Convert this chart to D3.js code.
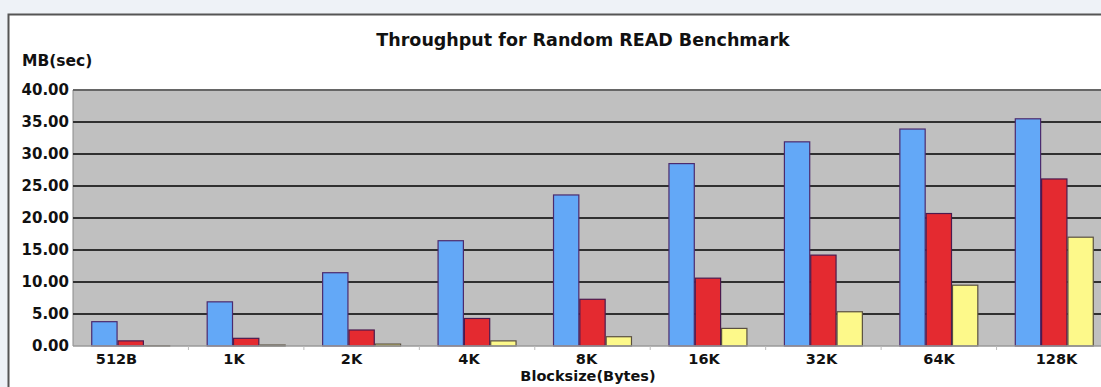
<!DOCTYPE html>
<html>
<head>
<meta charset="utf-8">
<script src="https://cdn.jsdelivr.net/npm/d3@7"></script>
<style>
  html, body { margin: 0; padding: 0; background: #eef2f7; }
  svg { display: block; }
  text { font-family: "DejaVu Sans", "Liberation Sans", Arial, sans-serif; font-weight: bold; fill: #111; }
</style>
</head>
<body>
<svg id="chart" width="1101" height="387"></svg>
<script>
const categories = ["512B", "1K", "2K", "4K", "8K", "16K", "32K", "64K", "128K"];
const seriesNames = ["Series A", "Series B", "Series C"];
const seriesA = [3.8, 6.9, 11.45, 16.45, 23.6, 28.5, 31.9, 33.9, 35.5];
const seriesB = [0.8, 1.2, 2.5, 4.3, 7.3, 10.6, 14.2, 20.7, 26.1];
const seriesC = [0.05, 0.15, 0.3, 0.8, 1.45, 2.75, 5.35, 9.5, 17.0];
const yTicks = [0, 5, 10, 15, 20, 25, 30, 35, 40];
const seriesColors = ["#63a8f7", "#e42a30", "#fdf98a"];
const seriesStroke = ["#4b2a6e", "#4b1a4e", "#5a5040"];

const title = "Throughput for Random READ Benchmark";
const yTitle = "MB(sec)";
const xTitle = "Blocksize(Bytes)";

const W = 1101, H = 387;
const plot = { left: 73, top: 90, right: 1112, bottom: 346 };

const svg = d3.select("#chart");

// frame
svg.append("rect").attr("x", 0).attr("y", 0).attr("width", W).attr("height", H).attr("fill", "#eef2f7");
svg.append("rect").attr("x", 8.5).attr("y", 14.5).attr("width", W + 20).attr("height", H + 20)
  .attr("fill", "#ffffff").attr("stroke", "#555").attr("stroke-width", 2);

const x = d3.scaleBand().domain(categories).range([plot.left, plot.right])
  .paddingInner(0.316).paddingOuter(0.158);
const xs = d3.scaleBand().domain(seriesNames).range([0, x.bandwidth()]);
const y = d3.scaleLinear().domain([0, 40]).range([plot.bottom, plot.top]);

// plot background
svg.append("rect").attr("x", plot.left).attr("y", plot.top)
  .attr("width", plot.right - plot.left).attr("height", plot.bottom - plot.top)
  .attr("fill", "#c0c0c0");
svg.append("line").attr("x1", plot.left).attr("x2", plot.left)
  .attr("y1", plot.top).attr("y2", plot.bottom).attr("stroke", "#8a8a8a").attr("stroke-width", 1);

// gridlines
svg.append("g").selectAll("line").data(yTicks.filter(d => d > 0)).join("line")
  .attr("x1", plot.left).attr("x2", plot.right)
  .attr("y1", d => y(d)).attr("y2", d => y(d))
  .attr("stroke", d => d === 40 ? "#666" : "#303030").attr("stroke-width", 2);

// y axis labels
const yAxis = d3.axisLeft(y).tickValues(yTicks).tickFormat(d3.format(".2f")).tickSize(0).tickPadding(4);
const gy = svg.append("g").attr("transform", `translate(${plot.left},0)`).call(yAxis);
gy.select(".domain").remove();
gy.selectAll("text").attr("font-size", 15).attr("font-family", "DejaVu Sans").attr("font-weight", "bold").attr("fill", "#111");

// bars
const data = categories.map((c, i) => ({ cat: c, vals: [seriesA[i], seriesB[i], seriesC[i]] }));
const groups = svg.append("g").selectAll("g").data(data).join("g")
  .attr("transform", d => `translate(${x(d.cat)},0)`);
groups.selectAll("rect").data(d => d.vals.map((v, j) => ({ v, s: seriesNames[j], j })))
  .join("rect")
  .attr("x", d => xs(d.s) + 0.5)
  .attr("width", xs.bandwidth() - 1)
  .attr("y", d => y(d.v))
  .attr("height", d => y(0) - y(d.v))
  .attr("fill", d => seriesColors[d.j])
  .attr("stroke", d => seriesStroke[d.j])
  .attr("stroke-width", 1.2);

// x axis line and boundary ticks
svg.append("line").attr("x1", plot.left).attr("x2", plot.right)
  .attr("y1", plot.bottom).attr("y2", plot.bottom).attr("stroke", "#9a9a9a").attr("stroke-width", 1.5);
const bounds = categories.slice(1).map(c => x(c) - x.step() * x.paddingInner() / 2);
svg.append("g").selectAll("line").data(bounds).join("line")
  .attr("x1", d => d).attr("x2", d => d)
  .attr("y1", plot.bottom).attr("y2", plot.bottom + 4)
  .attr("stroke", "#bbb").attr("stroke-width", 1);

// x labels
const xl = d3.scalePoint().domain(categories).range([116, 1056]);
const xAxis = d3.axisBottom(xl).tickSize(0).tickPadding(8);
const gx = svg.append("g").attr("transform", `translate(0,${plot.bottom})`).call(xAxis);
gx.select(".domain").remove();
gx.selectAll("text").attr("font-size", 14.5).attr("font-family", "DejaVu Sans").attr("font-weight", "bold").attr("fill", "#111");

// titles
svg.append("text").attr("x", 583).attr("y", 46).attr("text-anchor", "middle")
  .attr("font-size", 17.5).text(title);
svg.append("text").attr("x", 22).attr("y", 66).attr("text-anchor", "start")
  .attr("font-size", 15.5).text(yTitle);
svg.append("text").attr("x", 588).attr("y", 381).attr("text-anchor", "middle")
  .attr("font-size", 14.5).text(xTitle);
</script>
</body>
</html>
